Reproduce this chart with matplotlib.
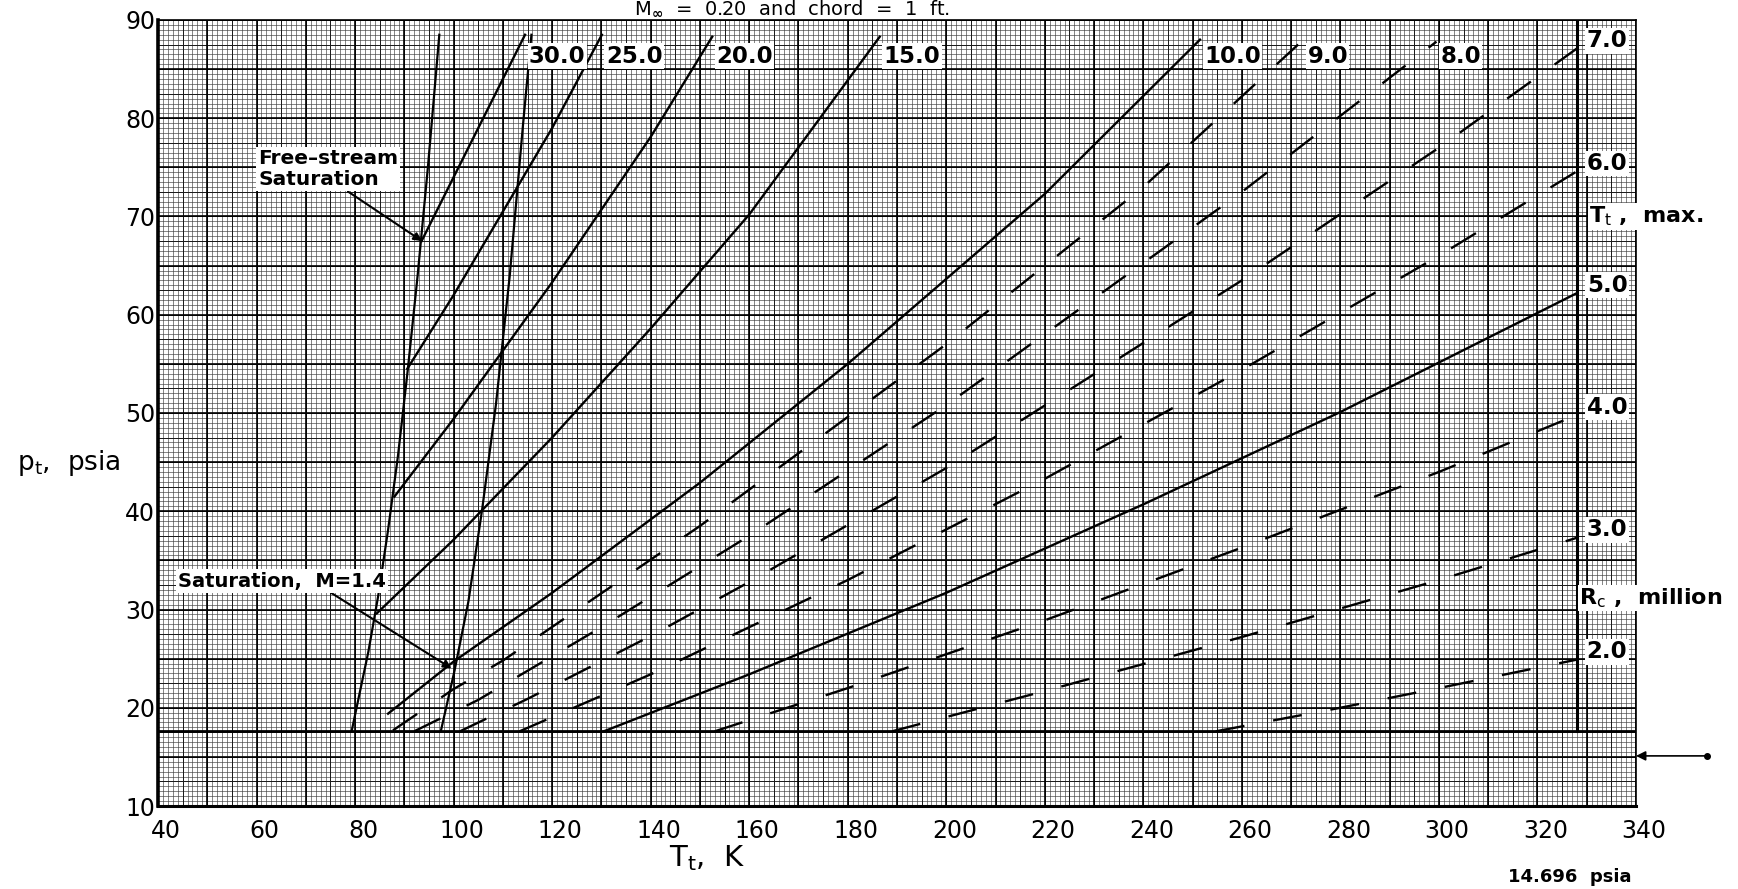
import numpy as np
import matplotlib
matplotlib.use('Agg')
import matplotlib.pyplot as plt
from matplotlib.transforms import ScaledTranslation

plt.rcParams['font.family'] = ['DejaVu Sans']
plt.rcParams['lines.scale_dashes'] = False

# -------------------------
# DATA
# -------------------------
# free-stream saturation boundary
fs_sat_T = [79.3, 80.6, 82.7, 84.7, 86.7, 88.7, 90.7, 92.7, 94.8, 97.1]
fs_sat_p = [17.6, 20.7, 25.7, 31.4, 38.1, 45.6, 54.4, 64.0, 75.1, 88.5]

# saturation at local M = 1.4
m14_sat_T = [97.4, 100.2, 103.0, 105.8, 108.6, 111.4, 114.1, 115.8]
m14_sat_p = [17.6, 23.8, 30.8, 40.2, 50.9, 64.0, 79.4, 88.5]

# constant chord Reynolds number lines, million
rc_solid = ["30.0", "25.0", "20.0", "15.0", "10.0", "5.0"]
rc_solid_T = [
    [93.5, 100, 105, 110, 114.5],
    [90.6, 100, 110, 120, 130.1],
    [88.0, 100, 120, 140, 152.5],
    [84.4, 100, 120, 140, 160, 186.5],
    [86.7, 100, 120, 150, 180, 220, 251.5],
    [130.5, 160, 200, 240, 280, 328],
]
rc_solid_p = [
    [67.5, 74.0, 79.0, 84.0, 88.5],
    [54.5, 62.0, 70.5, 79.0, 88.5],
    [41.5, 49.4, 63.3, 78.1, 88.3],
    [29.6, 37.1, 47.5, 58.6, 70.2, 88.3],
    [19.4, 24.7, 31.7, 42.9, 55.0, 72.3, 88.0],
    [17.6, 23.4, 31.7, 40.7, 50.1, 62.2],
]

rc_dashed = ["9.0", "8.0", "7.0", "6.0", "4.0", "3.0", "2.0"]
rc_dashed_T = [
    [87.7, 100, 110, 150, 200, 240, 272.5],
    [92.0, 105, 130, 160, 200, 260, 299.5],
    [101.3, 115, 140, 160, 200, 260, 300, 328],
    [113.4, 140, 180, 220, 260, 300, 328],
    [153.0, 180, 220, 260, 300, 328],
    [189.0, 220, 260, 300, 328],
    [254.7, 280, 300, 328],
]
rc_dashed_p = [
    [17.7, 21.9, 24.8, 38.5, 57.0, 73.0, 88.0],
    [17.6, 20.8, 28.2, 37.5, 50.8, 72.5, 87.8],
    [17.6, 20.9, 27.3, 32.8, 44.4, 63.5, 77.0, 87.1],
    [17.6, 23.4, 33.0, 43.3, 54.4, 66.0, 74.6],
    [17.6, 22.0, 28.9, 36.3, 44.0, 49.8],
    [17.6, 21.7, 27.2, 33.0, 37.3],
    [17.6, 20.0, 22.0, 24.9],
]

p_min = 17.6        # lower operating limit
p_atm = 15.1        # arrow on right
T_max = 328.0       # T_t, max.

x_ticks = list(range(40, 341, 20))
y_ticks = list(range(10, 91, 10))

# -------------------------
# FIGURE
# -------------------------
W, H = 1738, 889
fig = plt.figure(figsize=(W / 100, H / 100), dpi=100)
ax = fig.add_axes([158 / W, 1 - 806 / H, (1636 - 158) / W, (806 - 20) / H])
ax.set_xlim(40, 340)
ax.set_ylim(10, 90)

# graph paper
ax.vlines(np.arange(40, 341, 1), 10, 90, color='0.25', lw=0.45, zorder=0)
ax.hlines(np.arange(10, 90.01, 0.5), 40, 340, color='0.25', lw=0.45, zorder=0)
ax.vlines(np.arange(40, 341, 5), 10, 90, color='0.1', lw=0.7, zorder=0)
ax.hlines(np.arange(10, 91, 2.5), 40, 340, color='0.1', lw=0.7, zorder=0)
ax.vlines(np.arange(40, 341, 10), 10, 90, color='black', lw=1.2, zorder=0)
ax.hlines(np.arange(10, 91, 5), 40, 340, color='black', lw=1.2, zorder=0)

for s in ax.spines.values():
    s.set_linewidth(1.2)
ax.spines['left'].set_linewidth(2.6)
ax.spines['bottom'].set_linewidth(2.2)

ax.set_xticks(x_ticks)
ax.set_yticks(y_ticks)
ax.tick_params(length=0, labelsize=17, pad=9)
ax.tick_params(axis='y', pad=2)
for lab in ax.get_xticklabels():
    lab.set_transform(lab.get_transform() + ScaledTranslation(0.08, 0, fig.dpi_scale_trans))

# limits
ax.axhline(p_min, color='black', lw=2.0, zorder=3)
ax.plot([T_max, T_max], [p_min, 90], color='black', lw=2.2, zorder=3)

# saturation lines
ax.plot(fs_sat_T, fs_sat_p, color='black', lw=1.6, zorder=3)
ax.plot(m14_sat_T, m14_sat_p, color='black', lw=1.6, zorder=3)

lbl_box = dict(facecolor='white', edgecolor='none', pad=1.0)
for name, T, p in zip(rc_solid, rc_solid_T, rc_solid_p):
    ax.plot(T, p, color='black', lw=1.7, zorder=3)
for name, T, p in zip(rc_dashed, rc_dashed_T, rc_dashed_p):
    ax.plot(T, p, color='black', lw=1.7, dashes=(21, 21), zorder=3)

# line labels
for name, T, p in list(zip(rc_solid, rc_solid_T, rc_solid_p)) + list(zip(rc_dashed, rc_dashed_T, rc_dashed_p)):
    if T[-1] >= T_max:
        ax.text(T_max + 2.0, p[-1] + 0.8, name, fontsize=16.5, fontweight='bold',
                ha='left', va='center', bbox=lbl_box, zorder=5, clip_on=False)
    else:
        ax.text(T[-1] + 0.8, 86.3, name, fontsize=16.5, fontweight='bold',
                ha='left', va='center', bbox=lbl_box, zorder=5)

ax.text(T_max + 2.5, 70.0, 'T$_{\\rm t}$ ,  max.', fontsize=16, fontweight='bold',
        ha='left', va='center', bbox=lbl_box, zorder=5, clip_on=False)
ax.text(T_max + 0.5, 31.2, 'R$_{\\rm c}$ ,  million', fontsize=16, fontweight='bold',
        ha='left', va='center', bbox=lbl_box, zorder=5, clip_on=False)

ax.annotate('Free\u2013stream\nSaturation', xy=(93.6, 67.5), xytext=(60.3, 74.8),
            fontsize=14.5, fontweight='bold', ha='left', va='center', linespacing=1.15,
            bbox=dict(facecolor='white', edgecolor='none', pad=1.5), zorder=6,
            arrowprops=dict(arrowstyle='-|>', color='black', lw=1.5,
                            mutation_scale=12, shrinkA=0, shrinkB=0,
                            relpos=(0.62, 0.0)))
ax.annotate('Saturation,  M=1.4', xy=(99.6, 24.0), xytext=(44.0, 32.9),
            fontsize=14, fontweight='bold', ha='left', va='center',
            bbox=dict(facecolor='white', edgecolor='none', pad=1.5), zorder=6,
            arrowprops=dict(arrowstyle='-|>', color='black', lw=1.5,
                            mutation_scale=12, shrinkA=0, shrinkB=0,
                            relpos=(0.72, 0.0)))

# atmospheric pressure marker on the right
ax.annotate('', xy=(340, p_atm), xytext=(354.4, p_atm), annotation_clip=False,
            arrowprops=dict(arrowstyle='-|>', color='black', lw=1.2,
                            mutation_scale=14, shrinkA=0, shrinkB=0))
ax.plot([354.4], [p_atm], marker='o', ms=4, color='black', clip_on=False)

# axis titles
fig.text(17 / W, 1 - 463 / H, 'p$_{\\rm t}$,  psia', fontsize=19, ha='left', va='center')
fig.text(707 / W, 1 - 858 / H, 'T$_{\\rm t}$,  K', fontsize=21, ha='center', va='center')

# header and footer notes of the sheet
fig.text(634 / W, 1 - 15 / H, 'M$_{\\mathbf{\\infty}}$  =  0.20  and  chord  =  1  ft.',
         fontsize=14, ha='left', va='baseline')
fig.text(1508 / W, 1 - 886 / H, '14.696  psia', fontsize=13, fontweight='bold',
         ha='left', va='bottom')

fig.savefig('out.png', dpi=100)
